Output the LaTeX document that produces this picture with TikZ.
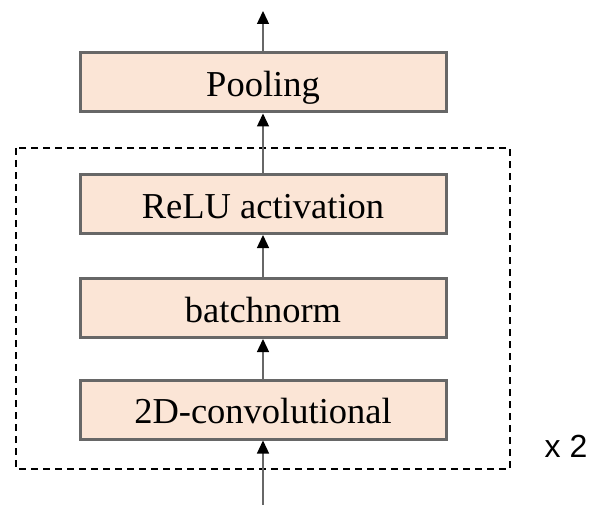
\documentclass[tikz,border=0pt]{standalone}
\usepackage{fontspec}
\setmainfont{Liberation Serif}
\newfontfamily\labelsans{Liberation Sans}
\usetikzlibrary{arrows.meta}
\definecolor{boxfill}{HTML}{FBE5D6}
\definecolor{boxline}{HTML}{676767}
\begin{document}
\begin{tikzpicture}[x=1pt,y=-1pt,
  layer/.style={draw=boxline, line width=3pt, fill=boxfill,
    minimum width=366pt, minimum height=59pt, inner sep=0pt,
    text height=28pt, text depth=0pt,
    font=\fontsize{36.5}{40}\selectfont},
  flow/.style={draw=boxline, line width=1.3pt,
    -{Triangle[width=12pt,length=13pt,fill=black,color=black]}},
  group/.style={draw=black, line width=1.5pt, dash pattern=on 7pt off 5pt}]
  \useasboundingbox (0,0) rectangle (596,505);
  % repeated block frame
  \draw[group] (16,148) rectangle (510,469);
  % layers
  \node[layer] (pool) at (263,82.5) {Pooling};
  \node[layer] (relu) at (263,204) {ReLU activation};
  \node[layer] (bn)   at (263,308) {batchnorm};
  \node[layer] (conv) at (263,409.5) {2D-convolutional};
  \coordinate (in)  at (263,505);
  \coordinate (out) at (263,11);
  % connections
  \draw[flow] (in) -- (conv);
  \draw[flow] (conv) -- (bn);
  \draw[flow] (bn) -- (relu);
  \draw[flow] (relu) -- (pool);
  \draw[flow] (pool) -- (out);
  % repetition count
  \node[font=\labelsans\fontsize{32}{34}\selectfont, anchor=base] (rep) at (566,457) {x 2};
\end{tikzpicture}
\end{document}
